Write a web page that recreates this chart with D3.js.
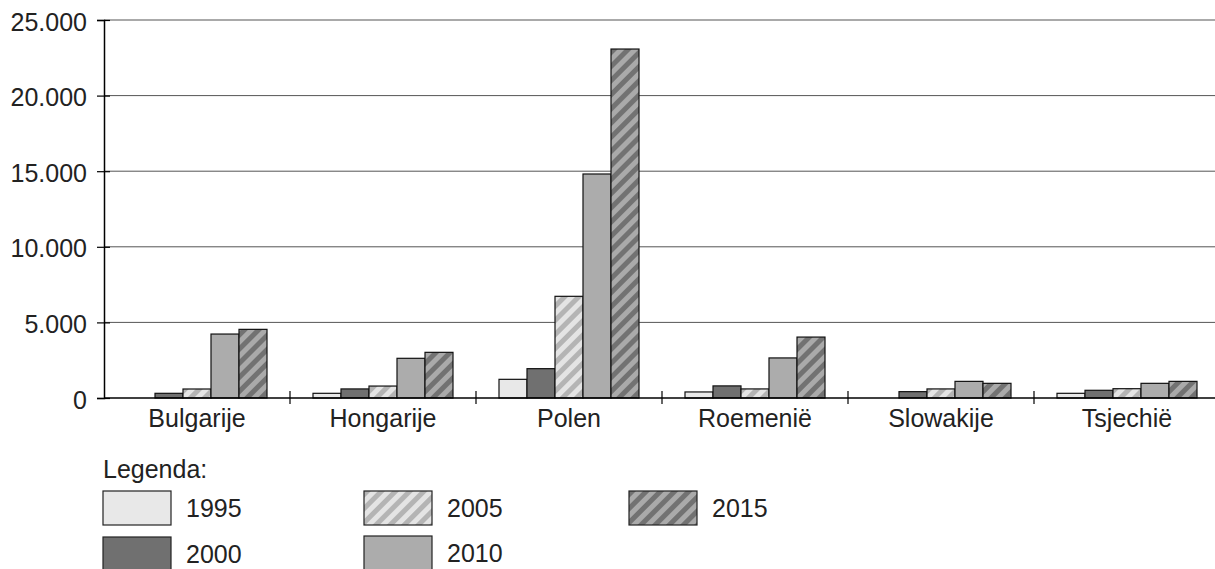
<!DOCTYPE html>
<html>
<head>
<meta charset="utf-8">
<script src="https://cdn.jsdelivr.net/npm/d3@7"></script>
<style>
  body { margin: 0; background: #fff; }
  svg { display: block; font-family: 'Liberation Sans', Arial, sans-serif; }
</style>
</head>
<body>
<svg id="chart" width="1215" height="569"></svg>
<script>
const countries = ['Bulgarije', 'Hongarije', 'Polen', 'Roemenië', 'Slowakije', 'Tsjechië'];
const years = ['1995', '2000', '2005', '2010', '2015'];
const v1995 = [0, 310, 1235, 400, 0, 310];
const v2000 = [310, 600, 1940, 800, 420, 510];
const v2005 = [595, 790, 6725, 600, 600, 615];
const v2010 = [4230, 2625, 14815, 2650, 1100, 970];
const v2015 = [4540, 3020, 23080, 4030, 970, 1100];
const yTicks = [0, 5000, 10000, 15000, 20000, 25000];

const series = { '1995': v1995, '2000': v2000, '2005': v2005, '2010': v2010, '2015': v2015 };

const margin = { top: 20, left: 104 };
const plotH = 378;
const bandW = 186;
const fontSize = 25;

const svg = d3.select('#chart');

// patterns for hatched bars
const defs = svg.append('defs');
function stripes(id, base, stripe) {
    const p = defs.append('pattern')
        .attr('id', id)
        .attr('patternUnits', 'userSpaceOnUse')
        .attr('width', 10)
        .attr('height', 10)
        .attr('patternTransform', 'rotate(45)');
    p.append('rect').attr('width', 10).attr('height', 10).attr('fill', base);
    p.append('rect').attr('width', 5).attr('height', 10).attr('fill', stripe);
}
stripes('hatchLight', '#e4e4e4', '#b4b4b4');
stripes('hatchDark', '#aaaaaa', '#727272');

const fills = {
    '1995': '#e8e8e8',
    '2000': '#707070',
    '2005': 'url(#hatchLight)',
    '2010': '#acacac',
    '2015': 'url(#hatchDark)'
};

const x0 = d3.scaleBand()
    .domain(countries)
    .range([margin.left, margin.left + bandW * countries.length])
    .padding(0);

const x1 = d3.scaleBand()
    .domain(years)
    .range([23, bandW - 23])
    .padding(0);

const y = d3.scaleLinear()
    .domain([0, 25000])
    .range([margin.top + plotH, margin.top]);

// grid lines
svg.append('g')
    .selectAll('line')
    .data(yTicks.filter(d => d > 0))
    .enter()
    .append('line')
        .attr('x1', margin.left)
        .attr('x2', 1215)
        .attr('y1', d => y(d))
        .attr('y2', d => y(d))
        .attr('stroke', '#555')
        .attr('stroke-width', 1);

// y axis
const yAxis = svg.append('g')
    .attr('transform', `translate(${margin.left},0)`)
    .call(d3.axisLeft(y)
        .tickValues(yTicks)
        .tickSize(7)
        .tickPadding(10)
        .tickFormat(d => d3.format(',')(d).replace(/,/g, '.')));
yAxis.select('.domain').attr('stroke', '#000').attr('stroke-width', 1.5);
yAxis.selectAll('.tick line')
    .attr('x2', -7)
    .attr('x1', 6)
    .attr('stroke', '#000')
    .attr('stroke-width', 1.2);
yAxis.selectAll('.tick text')
    .attr('font-size', fontSize)
    .attr('fill', '#222')
    .attr('dy', '0.4em')
    .style('font-family', "'Liberation Sans', Arial, sans-serif");

// bars
const groups = svg.append('g')
    .selectAll('g')
    .data(countries)
    .enter()
    .append('g')
        .attr('transform', d => `translate(${x0(d)},0)`);

groups.selectAll('rect')
    .data((d, i) => years.map(yr => ({ year: yr, value: series[yr][i] })).filter(e => e.value > 0))
    .enter()
    .append('rect')
        .attr('x', d => x1(d.year))
        .attr('y', d => y(d.value))
        .attr('width', x1.bandwidth())
        .attr('height', d => y(0) - y(d.value))
        .attr('fill', d => fills[d.year])
        .attr('stroke', '#111')
        .attr('stroke-width', 1.2);

// x axis
const xAxisY = y(0);
svg.append('line')
    .attr('x1', margin.left)
    .attr('x2', 1215)
    .attr('y1', xAxisY)
    .attr('y2', xAxisY)
    .attr('stroke', '#000')
    .attr('stroke-width', 1.5);

svg.append('g')
    .selectAll('line')
    .data(countries)
    .enter()
    .append('line')
        .attr('x1', d => x0(d) + bandW)
        .attr('x2', d => x0(d) + bandW)
        .attr('y1', xAxisY - 7)
        .attr('y2', xAxisY + 6)
        .attr('stroke', '#000')
        .attr('stroke-width', 1.2);

svg.append('g')
    .selectAll('text')
    .data(countries)
    .enter()
    .append('text')
        .attr('x', d => x0(d) + bandW / 2)
        .attr('y', 427)
        .attr('text-anchor', 'middle')
        .attr('font-size', fontSize)
        .attr('fill', '#222')
        .text(d => d);

// legend
svg.append('text')
    .attr('x', 103)
    .attr('y', 478)
    .attr('font-size', fontSize)
    .attr('fill', '#222')
    .text('Legenda:');

const legendPos = {
    '1995': [103, 491],
    '2000': [103, 537],
    '2005': [364, 491],
    '2010': [364, 536],
    '2015': [629, 491]
};

const legend = svg.append('g')
    .selectAll('g')
    .data(years)
    .enter()
    .append('g')
        .attr('transform', d => `translate(${legendPos[d][0]},${legendPos[d][1]})`);

legend.append('rect')
    .attr('width', 68)
    .attr('height', 34)
    .attr('fill', d => fills[d])
    .attr('stroke', '#222')
    .attr('stroke-width', 1.2);

legend.append('text')
    .attr('x', 83)
    .attr('y', 26)
    .attr('font-size', fontSize)
    .attr('fill', '#222')
    .text(d => d);
</script>
</body>
</html>
